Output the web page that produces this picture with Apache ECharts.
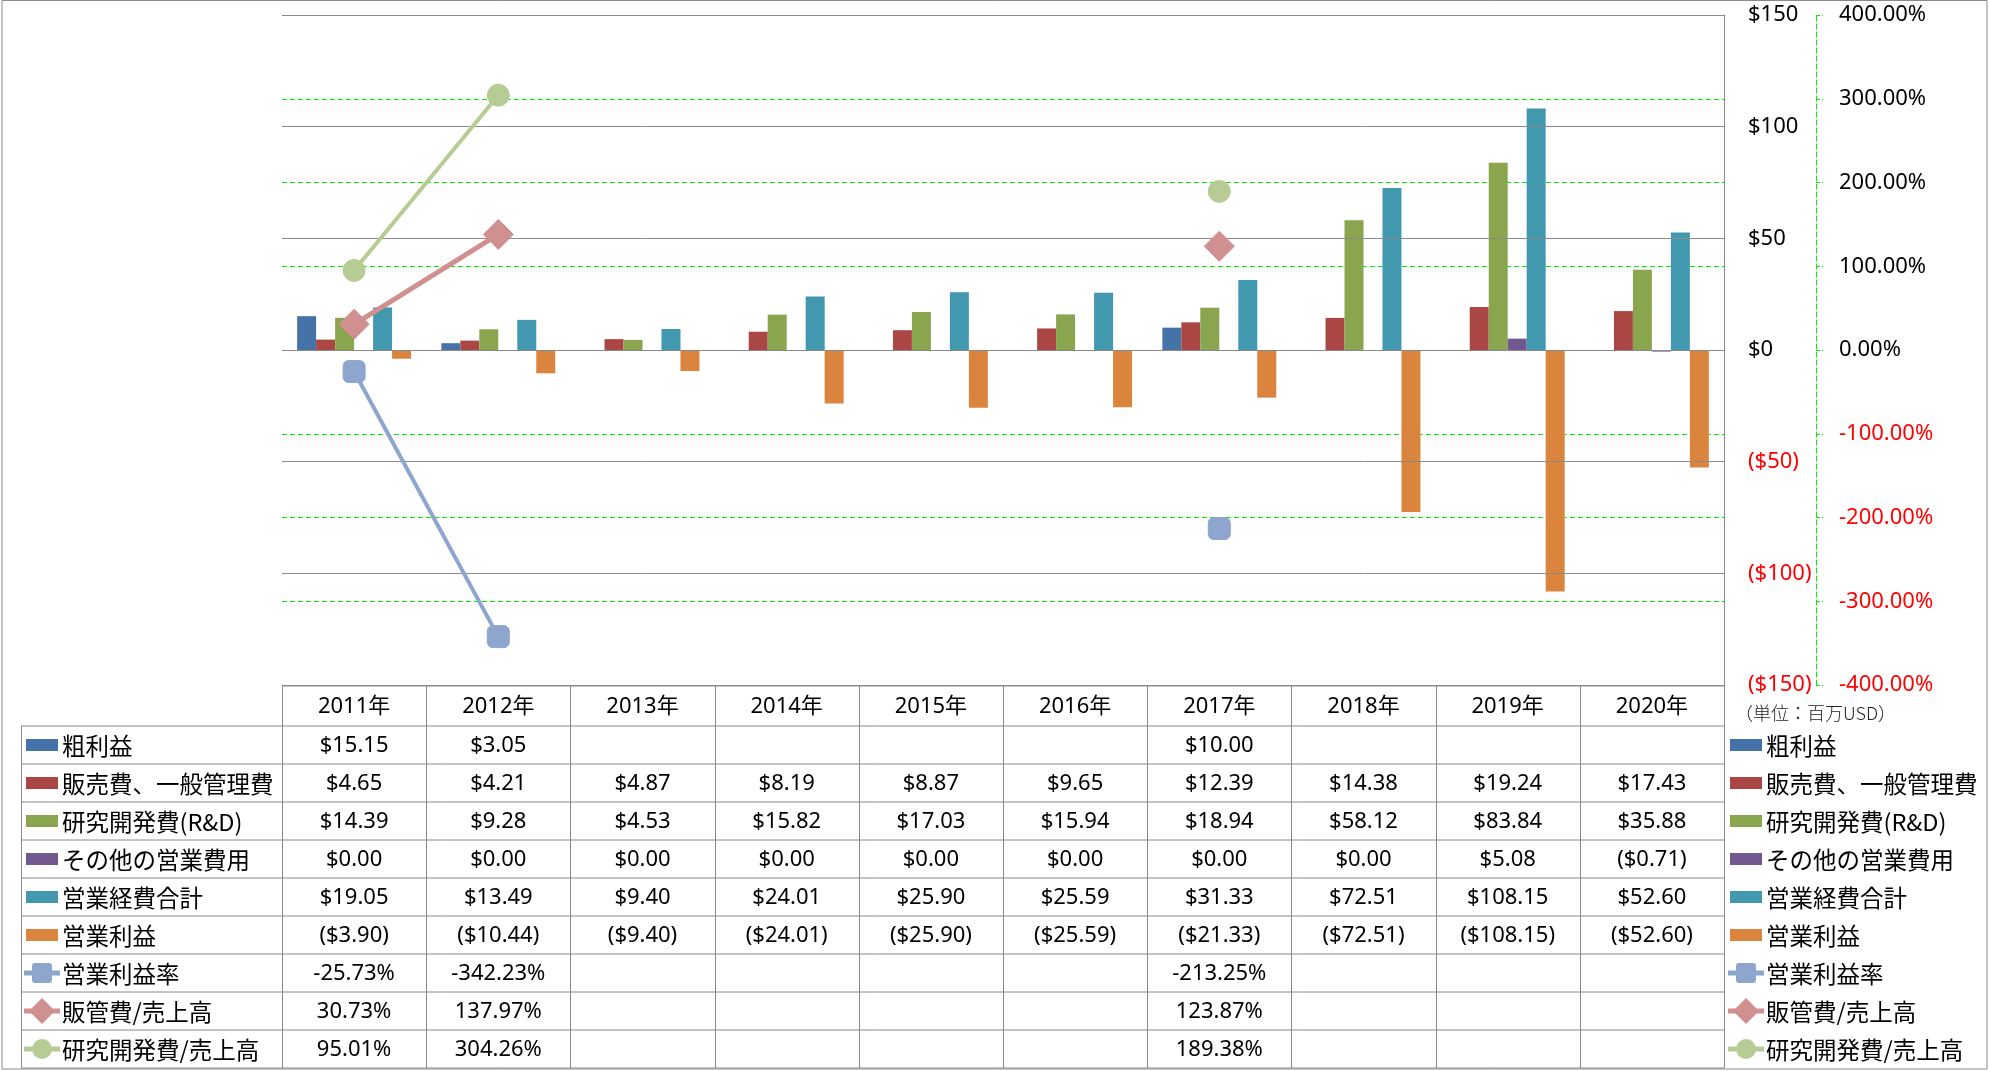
<!DOCTYPE html>
<html>
<head>
<meta charset="utf-8">
<script src="https://cdn.jsdelivr.net/npm/echarts@6/dist/echarts.min.js"></script>
<style>
html,body{margin:0;padding:0;background:#fff;}
#chart{width:1989px;height:1071px;}
</style>
</head>
<body>
<div id="chart"></div>
<script>
// ---- data ----
const years = ['2011年','2012年','2013年','2014年','2015年','2016年','2017年','2018年','2019年','2020年'];
const grossProfit = [15.15, 3.05, null, null, null, null, 10.00, null, null, null];
const sgaExpense = [4.65, 4.21, 4.87, 8.19, 8.87, 9.65, 12.39, 14.38, 19.24, 17.43];
const rdExpense = [14.39, 9.28, 4.53, 15.82, 17.03, 15.94, 18.94, 58.12, 83.84, 35.88];
const otherExpense = [0, 0, 0, 0, 0, 0, 0, 0, 5.08, -0.71];
const totalOpex = [19.05, 13.49, 9.40, 24.01, 25.90, 25.59, 31.33, 72.51, 108.15, 52.60];
const opIncome = [-3.90, -10.44, -9.40, -24.01, -25.90, -25.59, -21.33, -72.51, -108.15, -52.60];
const opMargin = [-25.73, -342.23, null, null, null, null, -213.25, null, null, null];
const sgaRatio = [30.73, 137.97, null, null, null, null, 123.87, null, null, null];
const rdRatio = [95.01, 304.26, null, null, null, null, 189.38, null, null, null];
const usdTicks = {min: -150, max: 150, interval: 50};
const pctTicks = {min: -400, max: 400, interval: 100};
const unitNote = '（単位：百万USD）';

// ---- styling / layout ----
const GRID = {left: 282, top: 15, width: 1442, height: 670};
const ROW_TOP = 726, ROW_H = 38, HEADER_TOP = 686;
const LEG_L = 26, LEG_R = 1730;
const gray = '#8a8a8a', green = '#00ee00';
const NUM_FONT = 'Noto Sans, "Noto Sans CJK JP", sans-serif';
const CJK_FONT = '"Noto Sans CJK JP", "Noto Sans", sans-serif';

const barSeries = [
  {name: '粗利益', data: grossProfit, color: '#4572A7', kind: 'money'},
  {name: '販売費、一般管理費', data: sgaExpense, color: '#AA4643', kind: 'money'},
  {name: '研究開発費(R&D)', data: rdExpense, color: '#89A54E', kind: 'money'},
  {name: 'その他の営業費用', data: otherExpense, color: '#71588F', kind: 'money'},
  {name: '営業経費合計', data: totalOpex, color: '#4198AF', kind: 'money'},
  {name: '営業利益', data: opIncome, color: '#DB843D', kind: 'money'}
];
const lineSeries = [
  {name: '営業利益率', data: opMargin, color: '#8EA6CE', symbol: 'roundRect', size: 22, width: 4, kind: 'pct'},
  {name: '販管費/売上高', data: sgaRatio, color: '#D09090', symbol: 'diamond', size: 30, width: 5, kind: 'pct'},
  {name: '研究開発費/売上高', data: rdRatio, color: '#B7CC94', symbol: 'circle', size: 22, width: 4, kind: 'pct'}
];

function fmtMoney(v){
  if (v === null || v === undefined) return '';
  return v < 0 ? '($' + Math.abs(v).toFixed(2) + ')' : '$' + v.toFixed(2);
}
function fmtPct(v){
  if (v === null || v === undefined) return '';
  return v.toFixed(2) + '%';
}

const series = [];
barSeries.forEach(s => series.push({
  name: s.name, type: 'bar', data: s.data, yAxisIndex: 0,
  barGap: '0%', barCategoryGap: '21%',
  itemStyle: {color: s.color}
}));
lineSeries.forEach(s => series.push({
  name: s.name, type: 'line', data: s.data, yAxisIndex: 1,
  symbol: s.symbol, symbolSize: s.size, connectNulls: false,
  lineStyle: {color: s.color, width: s.width},
  itemStyle: {color: s.color, borderColor: s.color, borderWidth: 1}
}));

const chart = echarts.init(document.getElementById('chart'), null, {renderer: 'canvas'});
chart.setOption({
  animation: false,
  backgroundColor: '#fff',
  grid: {left: GRID.left, top: GRID.top, width: GRID.width, height: GRID.height, containLabel: false},
  xAxis: {
    type: 'category', data: years,
    axisLine: {show: false}, axisTick: {show: false}, axisLabel: {show: false}, splitLine: {show: false}
  },
  yAxis: [
    {
      type: 'value', position: 'right', min: usdTicks.min, max: usdTicks.max, interval: usdTicks.interval, z: 3,
      axisLine: {show: true, lineStyle: {color: gray, width: 1}},
      axisTick: {show: false},
      axisLabel: {
        margin: 24, fontSize: 22, fontFamily: NUM_FONT,
        formatter: v => v < 0 ? '($' + (-v) + ')' : '$' + v,
        color: v => (v < 0 ? '#ff0000' : '#000000')
      },
      splitLine: {show: true, lineStyle: {color: gray, width: 1}}
    },
    {
      type: 'value', position: 'right', offset: 92, min: pctTicks.min, max: pctTicks.max, interval: pctTicks.interval, z: 1,
      axisLine: {show: true, lineStyle: {color: green, width: 1, type: [5, 3]}},
      axisTick: {show: true, length: 7, lineStyle: {color: green, width: 1, type: [4, 2]}},
      axisLabel: {
        margin: 23, fontSize: 22, fontFamily: NUM_FONT,
        formatter: v => v.toFixed(2) + '%',
        color: v => (v < 0 ? '#ff0000' : '#000000')
      },
      splitLine: {show: true, lineStyle: {color: green, width: 1.2, type: [5, 3]}}
    }
  ],
  series: series
});

// ---- data table + legends built from the category axis positions ----
const graphics = [];
const colX = years.map((y, i) => chart.convertToPixel({xAxisIndex: 0}, i));
const colW = GRID.width / years.length;
const tableLeft = GRID.left, tableRight = GRID.left + GRID.width;
const allRows = barSeries.concat(lineSeries);
const tableBottom = ROW_TOP + ROW_H * allRows.length;

// outer border
graphics.push({type: 'rect', shape: {x: 2, y: 0.5, width: 1985, height: 1068.5}, style: {fill: null, stroke: gray, lineWidth: 1}, silent: true});
// header top line
graphics.push({type: 'line', shape: {x1: tableLeft, y1: HEADER_TOP, x2: tableRight, y2: HEADER_TOP}, style: {stroke: gray, lineWidth: 1}});
// horizontal row lines
for (let r = 0; r <= allRows.length; r++) {
  const y = ROW_TOP + r * ROW_H;
  graphics.push({type: 'line', shape: {x1: 21.5, y1: y, x2: tableRight, y2: y}, style: {stroke: gray, lineWidth: 1}});
}
// vertical lines
graphics.push({type: 'line', shape: {x1: 21.5, y1: ROW_TOP, x2: 21.5, y2: tableBottom}, style: {stroke: gray, lineWidth: 1}});
for (let c = 0; c <= years.length; c++) {
  const x = Math.round(colX[0] - colW / 2 + c * colW) + 0.5;
  graphics.push({type: 'line', shape: {x1: x, y1: HEADER_TOP, x2: x, y2: tableBottom}, style: {stroke: gray, lineWidth: 1}});
}
// header text
years.forEach((y, i) => graphics.push({
  type: 'text', style: {text: y, x: colX[i], y: (HEADER_TOP + ROW_TOP) / 2 + 1, align: 'center', verticalAlign: 'middle',
    fontSize: 22, fontFamily: NUM_FONT, fill: '#000'}
}));
// unit note
graphics.push({type: 'text', style: {text: unitNote, x: 1735, y: 713, align: 'left', verticalAlign: 'middle',
  fontSize: 18, fontFamily: CJK_FONT, fontWeight: 300, fill: '#222'}});

function legendIcon(s, x, cy) {
  const items = [];
  if (s.symbol === undefined) {
    items.push({type: 'rect', shape: {x: x, y: cy - 6, width: 32, height: 12}, style: {fill: s.color}});
  } else {
    items.push({type: 'line', shape: {x1: x - 2, y1: cy, x2: x + 34, y2: cy}, style: {stroke: s.color, lineWidth: 5}});
    const cx = x + 16;
    if (s.symbol === 'roundRect') {
      items.push({type: 'rect', shape: {x: cx - 10, y: cy - 10, width: 20, height: 20, r: 3}, style: {fill: s.color}});
    } else if (s.symbol === 'diamond') {
      items.push({type: 'polygon', shape: {points: [[cx, cy - 13], [cx + 13, cy], [cx, cy + 13], [cx - 13, cy]]}, style: {fill: s.color}});
    } else {
      items.push({type: 'circle', shape: {cx: cx, cy: cy, r: 10}, style: {fill: s.color}});
    }
  }
  return items;
}

allRows.forEach((s, r) => {
  const cy = ROW_TOP + r * ROW_H + ROW_H / 2;
  // left legend cell
  legendIcon(s, LEG_L, cy).forEach(g => graphics.push(g));
  graphics.push({type: 'text', style: {text: s.name, x: 62, y: cy + 1, align: 'left', verticalAlign: 'middle',
    fontSize: 23.5, fontFamily: CJK_FONT, fill: '#000'}});
  // right legend
  legendIcon(s, LEG_R, cy).forEach(g => graphics.push(g));
  graphics.push({type: 'text', style: {text: s.name, x: 1766, y: cy + 1, align: 'left', verticalAlign: 'middle',
    fontSize: 23.5, fontFamily: CJK_FONT, fill: '#000'}});
  // values
  s.data.forEach((v, i) => {
    const t = s.kind === 'money' ? fmtMoney(v) : fmtPct(v);
    if (!t) return;
    graphics.push({type: 'text', style: {text: t, x: colX[i], y: cy + 1, align: 'center', verticalAlign: 'middle',
      fontSize: 22, fontFamily: NUM_FONT, fill: '#000'}});
  });
});
// right table border / axis line extension
graphics.push({type: 'line', shape: {x1: tableRight + 0.5, y1: GRID.top, x2: tableRight + 0.5, y2: tableBottom}, style: {stroke: gray, lineWidth: 1}});

chart.setOption({graphic: {elements: graphics}});
</script>
</body>
</html>
